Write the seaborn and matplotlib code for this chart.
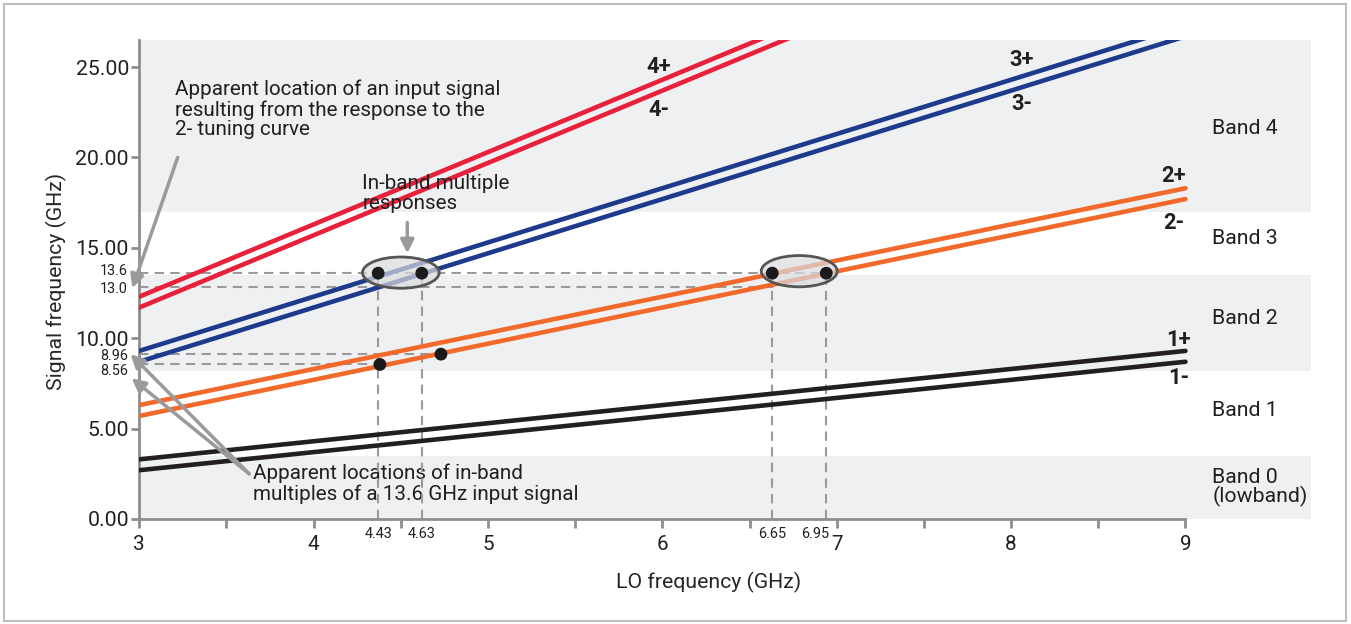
import numpy as np
import pandas as pd
import seaborn as sns
import matplotlib
matplotlib.use("Agg")
import matplotlib.pyplot as plt
from matplotlib.patches import Ellipse, Rectangle
from matplotlib.ticker import FormatStrFormatter, FixedLocator
from matplotlib import font_manager

# 튜닝 곡선 (LO 3 GHz, 9 GHz 에서의 값)
lo_ends = [3, 9]
curve_names = ["1-", "1+", "2-", "2+", "3-", "3+", "4-", "4+"]
sig_at_3 = [2.7, 3.3, 5.7, 6.3, 8.7, 9.3, 11.7, 12.3]
sig_at_9 = [8.7, 9.3, 17.7, 18.3, 26.7, 27.3, 35.7, 36.3]
curve_colors = ["#231f20", "#231f20", "#f26a2b", "#f26a2b",
                "#1e3a8c", "#1e3a8c", "#e8203a", "#e8203a"]

# 밴드 경계
band_names = ["Band 0\n(lowband)", "Band 1", "Band 2", "Band 3", "Band 4"]
band_lo = [0, 3.5, 8.2, 13.5, 17.0]
band_hi = [3.5, 8.2, 13.5, 17.0, 26.5]

# 표시된 응답 점
mark_lo = [4.37, 4.62, 6.63, 6.94, 4.38, 4.73]
mark_sig = [13.6, 13.6, 13.6, 13.6, 8.55, 9.12]

# 보조 눈금
lo_marks = [4.37, 4.62, 6.63, 6.94]
lo_mark_labels = ["4.43", "4.63", "6.65", "6.95"]
sig_marks = [13.6, 12.85, 9.12, 8.55]
sig_mark_labels = ["13.6", "13.0", "8.96", "8.56"]
sig_mark_ends = [6.94, 6.66, 4.73, 4.38]

installed = {f.name for f in font_manager.fontManager.ttflist}
narrow = "Liberation Sans Narrow" in installed
font = "Liberation Sans Narrow" if narrow else "Roboto"
k = 1.0 if narrow else 0.9

sns.set_theme(style="white")
plt.rcParams['font.family'] = [font, 'DejaVu Sans']
plt.rcParams['text.color'] = '#231f20'

fig = plt.figure(figsize=(13.51, 6.24), dpi=100)
ax = fig.add_axes([139.3 / 1351, 1 - 519 / 624, (1311 - 139.3) / 1351, (519 - 40) / 624])
fig.patches.append(Rectangle((4 / 1351, 3 / 624), 1342 / 1351, 617 / 624,
                             transform=fig.transFigure, fill=False,
                             ec='#bdbdbd', lw=1.5))

# 밴드 배경
for i, (lo, hi) in enumerate(zip(band_lo, band_hi)):
    if i % 2 == 0:
        ax.axhspan(lo, hi, color='#eff0f2', lw=0, zorder=0)
band_text_y = [1.75, 6.0, 11.1, 15.5, 21.6]
for name, y in zip(band_names, band_text_y):
    ax.text(9.155, y, name, fontsize=17 * k, va='center', ha='left', linespacing=0.95)

# 곡선
rows = []
for name, a, b in zip(curve_names, sig_at_3, sig_at_9):
    rows.append({"curve": name, "lo": lo_ends[0], "sig": a})
    rows.append({"curve": name, "lo": lo_ends[1], "sig": b})
df = pd.DataFrame(rows)
sns.lineplot(data=df, x="lo", y="sig", hue="curve", hue_order=curve_names,
             palette=curve_colors, linewidth=3.3, legend=False, ax=ax, zorder=3)

label_pos = {"4+": (5.98, 25.0), "4-": (5.98, 22.6), "3+": (8.06, 25.4), "3-": (8.06, 22.95),
             "2+": (8.93, 18.95), "2-": (8.93, 16.4), "1+": (8.96, 9.9), "1-": (8.96, 7.8)}
for name, (x, y) in label_pos.items():
    ax.text(x, y, name, fontsize=17.5 * k, fontweight='bold', ha='center', va='center')

# 점선
dash = dict(color='#9a9a9a', lw=1.5, ls=(0, (4.5, 3)), zorder=2)
for y, x_end in zip(sig_marks, sig_mark_ends):
    ax.plot([3, x_end], [y, y], **dash)
for x in lo_marks:
    ax.plot([x, x], [0, 13.6], **dash)
sig_label_y = [13.7, 12.7, 9.0, 8.2]
for y, lab in zip(sig_label_y, sig_mark_labels):
    ax.text(2.935, y, lab, fontsize=11.5 * k, ha='right', va='center', clip_on=False)
lo_label_x = [4.37, 4.62, 6.63, 6.875]
for x, lab in zip(lo_label_x, lo_mark_labels):
    ax.text(x, -0.85, lab, fontsize=11.5 * k, ha='center', va='center', clip_on=False)

# 타원
for cx, cy, w in [(4.50, 13.63, 0.44), (6.785, 13.71, 0.436)]:
    ax.add_patch(Ellipse((cx, cy), w, 1.73, facecolor=(0.86, 0.86, 0.87, 0.7),
                         edgecolor='#555555', lw=2, zorder=4))

sns.scatterplot(x=mark_lo, y=mark_sig, color='#1a1a1a', s=85, edgecolor='none', ax=ax, zorder=5)

# 주석
arrow = dict(arrowstyle='-|>', color='#9a9a9a', lw=2.5, mutation_scale=20, shrinkA=0, shrinkB=0)
ax.text(3.205, 24.3, "Apparent location of an input signal\nresulting from the response to the\n2- tuning curve",
        fontsize=16.5 * k, va='top', ha='left', linespacing=1.05)
ax.annotate("", xy=(2.96, 12.77), xytext=(3.22, 20.0), arrowprops=arrow, annotation_clip=False)

ax.text(3.653, 3.05, "Apparent locations of in-band\nmultiples of a 13.6 GHz input signal",
        fontsize=16.5 * k, va='top', ha='left', linespacing=1.05, zorder=1)
ax.annotate("", xy=(2.95, 9.12), xytext=(3.63, 2.5), arrowprops=arrow, annotation_clip=False)
ax.annotate("", xy=(2.956, 7.79), xytext=(3.63, 2.5), arrowprops=arrow, annotation_clip=False)

ax.text(4.28, 19.1, "In-band multiple\nresponses", fontsize=16.5 * k, va='top', ha='left', linespacing=1.05)
ax.annotate("", xy=(4.537, 14.7), xytext=(4.537, 16.4), arrowprops=arrow)

# 축
ax.set_xlim(3, 9.72)
ax.set_ylim(0, 26.5)
ax.set_xticks(range(3, 10))
ax.xaxis.set_minor_locator(FixedLocator([3.5, 4.5, 5.5, 6.5, 7.5, 8.5]))
ax.set_yticks(range(0, 26, 5))
ax.yaxis.set_major_formatter(FormatStrFormatter('%.2f'))
for s in ['top', 'right']:
    ax.spines[s].set_visible(False)
for s in ['left', 'bottom']:
    ax.spines[s].set_color('#8e8e8e')
    ax.spines[s].set_linewidth(2)
ax.spines['bottom'].set_bounds(3, 9)
ax.tick_params(axis='x', which='both', bottom=True, length=6.5, width=2, color='#8e8e8e',
               pad=5, labelsize=16.5 * k, labelcolor='#231f20')
ax.tick_params(axis='y', left=True, length=6, width=2, color='#8e8e8e',
               pad=1.5, labelsize=17 * k, labelcolor='#231f20')
ax.set_xlabel("LO frequency (GHz)", fontsize=17 * k)
ax.set_ylabel("Signal frequency (GHz)", fontsize=17 * k)
ax.xaxis.set_label_coords(0.486, -0.11)
ax.yaxis.set_label_coords(-0.062, 0.495)

fig.savefig("out.png", dpi=100)
